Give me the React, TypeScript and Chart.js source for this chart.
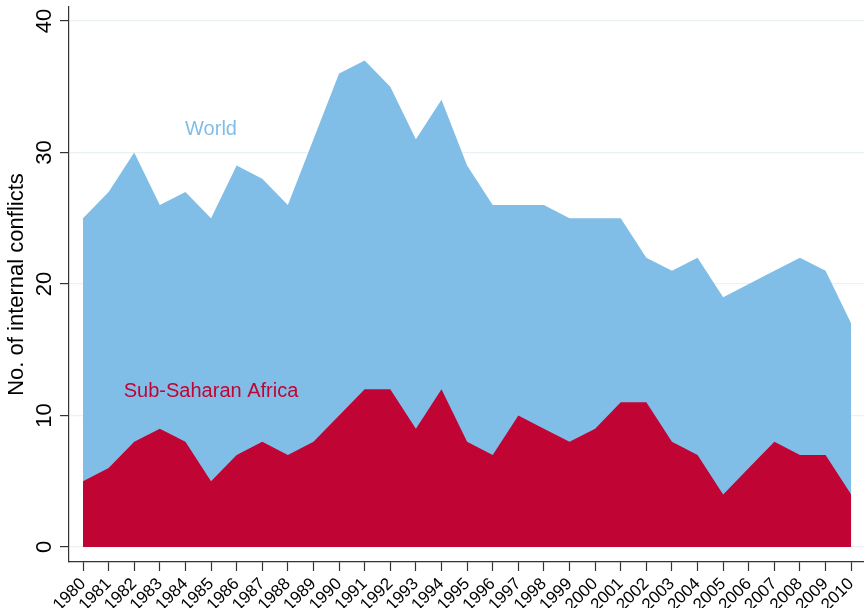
import React, { useEffect, useRef } from "react";
import { Chart, registerables } from "chart.js";

Chart.register(...registerables);

const years: number[] = [
  1980, 1981, 1982, 1983, 1984, 1985, 1986, 1987, 1988, 1989, 1990,
  1991, 1992, 1993, 1994, 1995, 1996, 1997, 1998, 1999, 2000, 2001,
  2002, 2003, 2004, 2005, 2006, 2007, 2008, 2009, 2010,
];
const worldConflicts: number[] = [
  25, 27, 30, 26, 27, 25, 29, 28, 26, 31, 36,
  37, 35, 31, 34, 29, 26, 26, 26, 25, 25, 25,
  22, 21, 22, 19, 20, 21, 22, 21, 17,
];
const ssaConflicts: number[] = [
  5, 6, 8, 9, 8, 5, 7, 8, 7, 8, 10,
  12, 12, 9, 12, 8, 7, 10, 9, 8, 9, 11,
  11, 8, 7, 4, 6, 8, 7, 7, 4,
];
const yTickValues: number[] = [0, 10, 20, 30, 40];
const seriesNames: string[] = ["World", "Sub-Saharan Africa"];
const yAxisTitle = "No. of internal conflicts";

// annotation anchor points (data space)
const worldLabelAt = { x: 1985, y: 31.75 };
const ssaLabelAt = { x: 1985, y: 11.8 };

const BLUE = "rgb(128,190,232)";
const RED = "rgb(192,5,52)";
const FONT = "'Liberation Sans', Arial, Helvetica, sans-serif";

const labelPlugin = {
  id: "areaLabels",
  afterDatasetsDraw(chart: any) {
    const { ctx, scales } = chart;
    const xs = scales.x;
    const ys = scales.y;
    ctx.save();
    ctx.font = `20px ${FONT}`;
    ctx.textAlign = "center";
    ctx.textBaseline = "middle";
    ctx.fillStyle = BLUE;
    ctx.fillText(seriesNames[0], xs.getPixelForValue(worldLabelAt.x), ys.getPixelForValue(worldLabelAt.y));
    ctx.fillStyle = RED;
    ctx.fillText(seriesNames[1], xs.getPixelForValue(ssaLabelAt.x), ys.getPixelForValue(ssaLabelAt.y));
    ctx.restore();
  },
};

export default function App() {
  const canvasRef = useRef<HTMLCanvasElement | null>(null);

  useEffect(() => {
    document.body.style.margin = "0";
    const canvas = canvasRef.current;
    if (!canvas) return;
    Chart.defaults.font.family = FONT;
    const chart = new Chart(canvas, {
      type: "line",
      data: {
        datasets: [
          {
            label: seriesNames[1],
            data: years.map((y, i) => ({ x: y, y: ssaConflicts[i] })),
            backgroundColor: RED,
            borderColor: RED,
            borderWidth: 0,
            pointRadius: 0,
            fill: "origin",
            tension: 0,
          },
          {
            label: seriesNames[0],
            data: years.map((y, i) => ({ x: y, y: worldConflicts[i] })),
            backgroundColor: BLUE,
            borderColor: BLUE,
            borderWidth: 0,
            pointRadius: 0,
            fill: "origin",
            tension: 0,
          },
        ],
      },
      options: {
        responsive: false,
        animation: false,
        devicePixelRatio: 1,
        layout: { padding: { top: 7, right: 0, left: 0, bottom: 0 } },
        plugins: {
          legend: { display: false },
          tooltip: { enabled: false },
          title: { display: false },
        },
        scales: {
          x: {
            type: "linear",
            min: 1979.453,
            max: 2010.5,
            bounds: "data",
            afterBuildTicks: (scale: any) => {
              scale.ticks = years.map((v) => ({ value: v }));
            },
            afterFit: (scale: any) => {
              scale.height = 46;
              scale.paddingLeft = 0;
              scale.paddingRight = 0;
            },
            grid: {
              drawOnChartArea: false,
              drawTicks: true,
              tickLength: 9,
              tickColor: "#333",
              tickWidth: 1.2,
            },
            border: { display: true, color: "#333", width: 1.2 },
            ticks: {
              autoSkip: false,
              minRotation: 45,
              maxRotation: 45,
              padding: 3,
              color: "#000",
              font: { size: 17, family: FONT },
              callback: (v: any) => String(v),
            },
          },
          y: {
            type: "linear",
            min: -1.14,
            max: 41.06,
            bounds: "data",
            afterBuildTicks: (scale: any) => {
              scale.ticks = yTickValues.map((v) => ({ value: v }));
            },
            afterFit: (scale: any) => {
              scale.width = 69;
              scale.paddingTop = 0;
              scale.paddingBottom = 0;
            },
            grid: {
              color: "rgb(234,242,243)",
              lineWidth: 1.2,
              drawTicks: true,
              tickLength: 9,
              tickColor: "#333",
              tickWidth: 1.2,
            },
            border: { display: true, color: "#333", width: 1.2 },
            ticks: {
              minRotation: 90,
              maxRotation: 90,
              crossAlign: "center",
              padding: 3,
              color: "#000",
              font: { size: 22, family: FONT },
            },
            title: {
              display: true,
              text: yAxisTitle,
              color: "#000",
              font: { size: 22, family: FONT },
              padding: { top: 4, bottom: 0 },
            },
          },
        },
      },
      plugins: [labelPlugin],
    });
    return () => chart.destroy();
  }, []);

  return (
    <div style={{ position: "absolute", left: 0, top: 0, width: 864, height: 608 }}>
      <canvas ref={canvasRef} width={864} height={608} style={{ display: "block" }} />
    </div>
  );
}
